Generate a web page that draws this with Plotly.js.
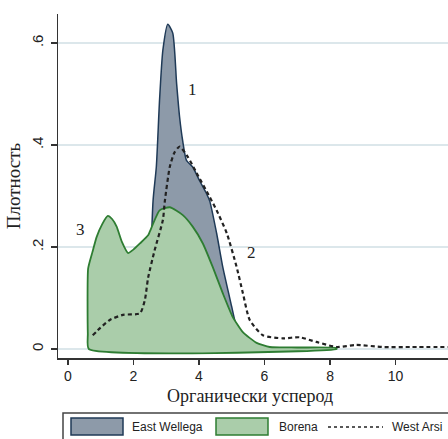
<!DOCTYPE html>
<html><head><meta charset="utf-8">
<script src="https://cdn.plot.ly/plotly-3.0.1.min.js"></script>
<style>html,body{margin:0;padding:0;background:#fff}#chart{width:448px;height:439px}</style>
</head><body><div id="chart"></div>
<script>
// East Wellega density
const ewX = [2.45, 2.6, 2.7, 2.8, 2.9, 3.05, 3.2, 3.32, 3.41, 3.5, 3.62, 3.81, 4.02, 4.23, 4.33, 4.54, 4.73, 5.0, 5.1, 5.3, 5.6, 6.0];
const ewY = [0.0, 0.29, 0.357, 0.49, 0.586, 0.637, 0.62, 0.52, 0.455, 0.41, 0.37, 0.357, 0.33, 0.305, 0.29, 0.227, 0.16, 0.083, 0.055, 0.02, 0.005, 0.0];
// Borena density
const bX = [0.64, 0.61, 0.62, 0.75, 0.88, 1.05, 1.22, 1.35, 1.49, 1.65, 1.84, 2.0, 2.2, 2.45, 2.5, 2.8, 3.11, 3.5, 3.81, 4.12, 4.42, 4.73, 5.03, 5.34, 5.76, 6.16, 7.0, 8.2];
const bY = [0.0, 0.03, 0.158, 0.19, 0.22, 0.245, 0.261, 0.255, 0.24, 0.21, 0.188, 0.195, 0.207, 0.223, 0.23, 0.272, 0.278, 0.263, 0.24, 0.207, 0.161, 0.109, 0.063, 0.033, 0.012, 0.004, 0.003, 0.002];
// West Arsi density
const waX = [0.76, 1.0, 1.28, 1.68, 2.2, 2.35, 2.45, 2.65, 2.9, 2.96, 3.11, 3.25, 3.41, 3.66, 3.93, 4.33, 4.54, 4.85, 5.15, 5.34, 5.55, 5.95, 6.56, 7.07, 7.58, 8.2, 8.8, 9.6, 10.5, 11.6];
const waY = [0.027, 0.042, 0.057, 0.067, 0.07, 0.096, 0.14, 0.194, 0.253, 0.29, 0.357, 0.385, 0.397, 0.377, 0.345, 0.298, 0.272, 0.227, 0.161, 0.11, 0.057, 0.027, 0.021, 0.023, 0.014, 0.004, 0.008, 0.004, 0.004, 0.004];

const xTicks = [0, 2, 4, 6, 8, 10];
const yTickVals = [0, 0.2, 0.4, 0.6];
const yTickText = ['0', '.2', '.4', '.6'];
const seriesNames = ['East Wellega', 'Borena', 'West Arsi'];
const xTitle = 'Органически усперод';
const yTitle = 'Плотность';
const labels = [{t: '1', x: 3.81, y: 0.508}, {t: '2', x: 5.61, y: 0.19}, {t: '3', x: 0.4, y: 0.235}];

const C = {ewFill: '#8d9aa9', ewLine: '#1f3a57', bFill: '#aacdaa', bLine: '#2e7d32', wa: '#222'};

const traces = [
  {x: ewX, y: ewY, type: 'scatter', mode: 'lines', fill: 'tozeroy', fillcolor: C.ewFill,
   line: {color: C.ewLine, width: 1.5, shape: 'spline', smoothing: 0.6}, name: seriesNames[0], showlegend: false},
  {x: bX.concat([bX[bX.length-1], bX[0]]), y: bY.concat([0, 0]), type: 'scatter', mode: 'lines', fill: 'toself', fillcolor: C.bFill,
   line: {color: C.bLine, width: 1.8, shape: 'spline', smoothing: 0.5}, name: seriesNames[1], showlegend: false},
  {x: waX, y: waY, type: 'scatter', mode: 'lines',
   line: {color: C.wa, width: 2.2, dash: '4px,3px', shape: 'spline', smoothing: 0.6}, name: seriesNames[2], showlegend: false}
];

// pixel -> paper helpers for manual legend (plot area: l=58, w=390, t=14, h=344)
const L = 58, W = 390, T = 14, H = 344;
const px = v => (v - L) / W;
const py = v => (T + H - v) / H;

const shapes = [
  {type: 'rect', xref: 'paper', yref: 'paper', x0: px(63), x1: px(470), y0: py(413), y1: py(450), line: {color: '#444', width: 1.5}, fillcolor: 'rgba(0,0,0,0)'},
  {type: 'rect', xref: 'paper', yref: 'paper', x0: px(71), x1: px(123), y0: py(418), y1: py(435), line: {color: C.ewLine, width: 1.5}, fillcolor: C.ewFill},
  {type: 'rect', xref: 'paper', yref: 'paper', x0: px(216), x1: px(268), y0: py(418), y1: py(435), line: {color: C.bLine, width: 1.5}, fillcolor: C.bFill},
  {type: 'line', xref: 'paper', yref: 'paper', x0: px(328), x1: px(383), y0: py(427), y1: py(427), line: {color: C.wa, width: 1.5, dash: '3px,3px'}}
];

const legendText = [{t: seriesNames[0], x: 130}, {t: seriesNames[1], x: 277}, {t: seriesNames[2], x: 390}];

const annotations = labels.map(a => ({x: a.x, y: a.y, xref: 'x', yref: 'y', text: a.t, showarrow: false,
  font: {family: 'Liberation Serif, serif', size: 17, color: '#222'}}))
  .concat(legendText.map(l => ({x: px(l.x), y: py(427), xref: 'paper', yref: 'paper', text: l.t, showarrow: false,
  xanchor: 'left', yanchor: 'middle', font: {family: 'Liberation Sans, Arial, sans-serif', size: 12, color: '#222'}})))
  .concat([{x: px(250), y: py(396), xref: 'paper', yref: 'paper', text: xTitle, showarrow: false, borderpad: 0,
  xanchor: 'center', yanchor: 'middle', font: {family: 'Liberation Serif, serif', size: 18, color: '#222'}}]);

const layout = {
  width: 448, height: 439,
  margin: {l: L, r: 0, t: T, b: 439 - T - H, pad: 0},
  paper_bgcolor: '#fff', plot_bgcolor: '#fff',
  showlegend: false,
  xaxis: {range: [-0.3, 11.6], tickvals: xTicks, ticktext: xTicks.map(String), showgrid: false, zeroline: false,
    showline: true, linecolor: '#333', linewidth: 1.5, ticks: 'outside', ticklen: 5, tickwidth: 1.5, tickcolor: '#333',
    ticklabelstandoff: 0,
    tickfont: {family: 'Liberation Sans, Arial, sans-serif', size: 14, color: '#222'}},
  yaxis: {range: [-0.0176, 0.657], tickvals: yTickVals, ticktext: yTickText, tickangle: -90,
    showgrid: true, gridcolor: '#dce7eb', gridwidth: 1.5, zeroline: false,
    showline: true, linecolor: '#333', linewidth: 1.5, ticks: 'outside', ticklen: 6, tickwidth: 1.5, tickcolor: '#333',
    ticklabelstandoff: 2,
    tickfont: {family: 'Liberation Sans, Arial, sans-serif', size: 15, color: '#222'},
    title: {text: yTitle, standoff: 3, font: {family: 'Liberation Serif, serif', size: 19, color: '#222'}}},
  shapes: shapes,
  annotations: annotations
};

Plotly.newPlot('chart', traces, layout, {displayModeBar: false, staticPlot: true});
</script></body></html>
